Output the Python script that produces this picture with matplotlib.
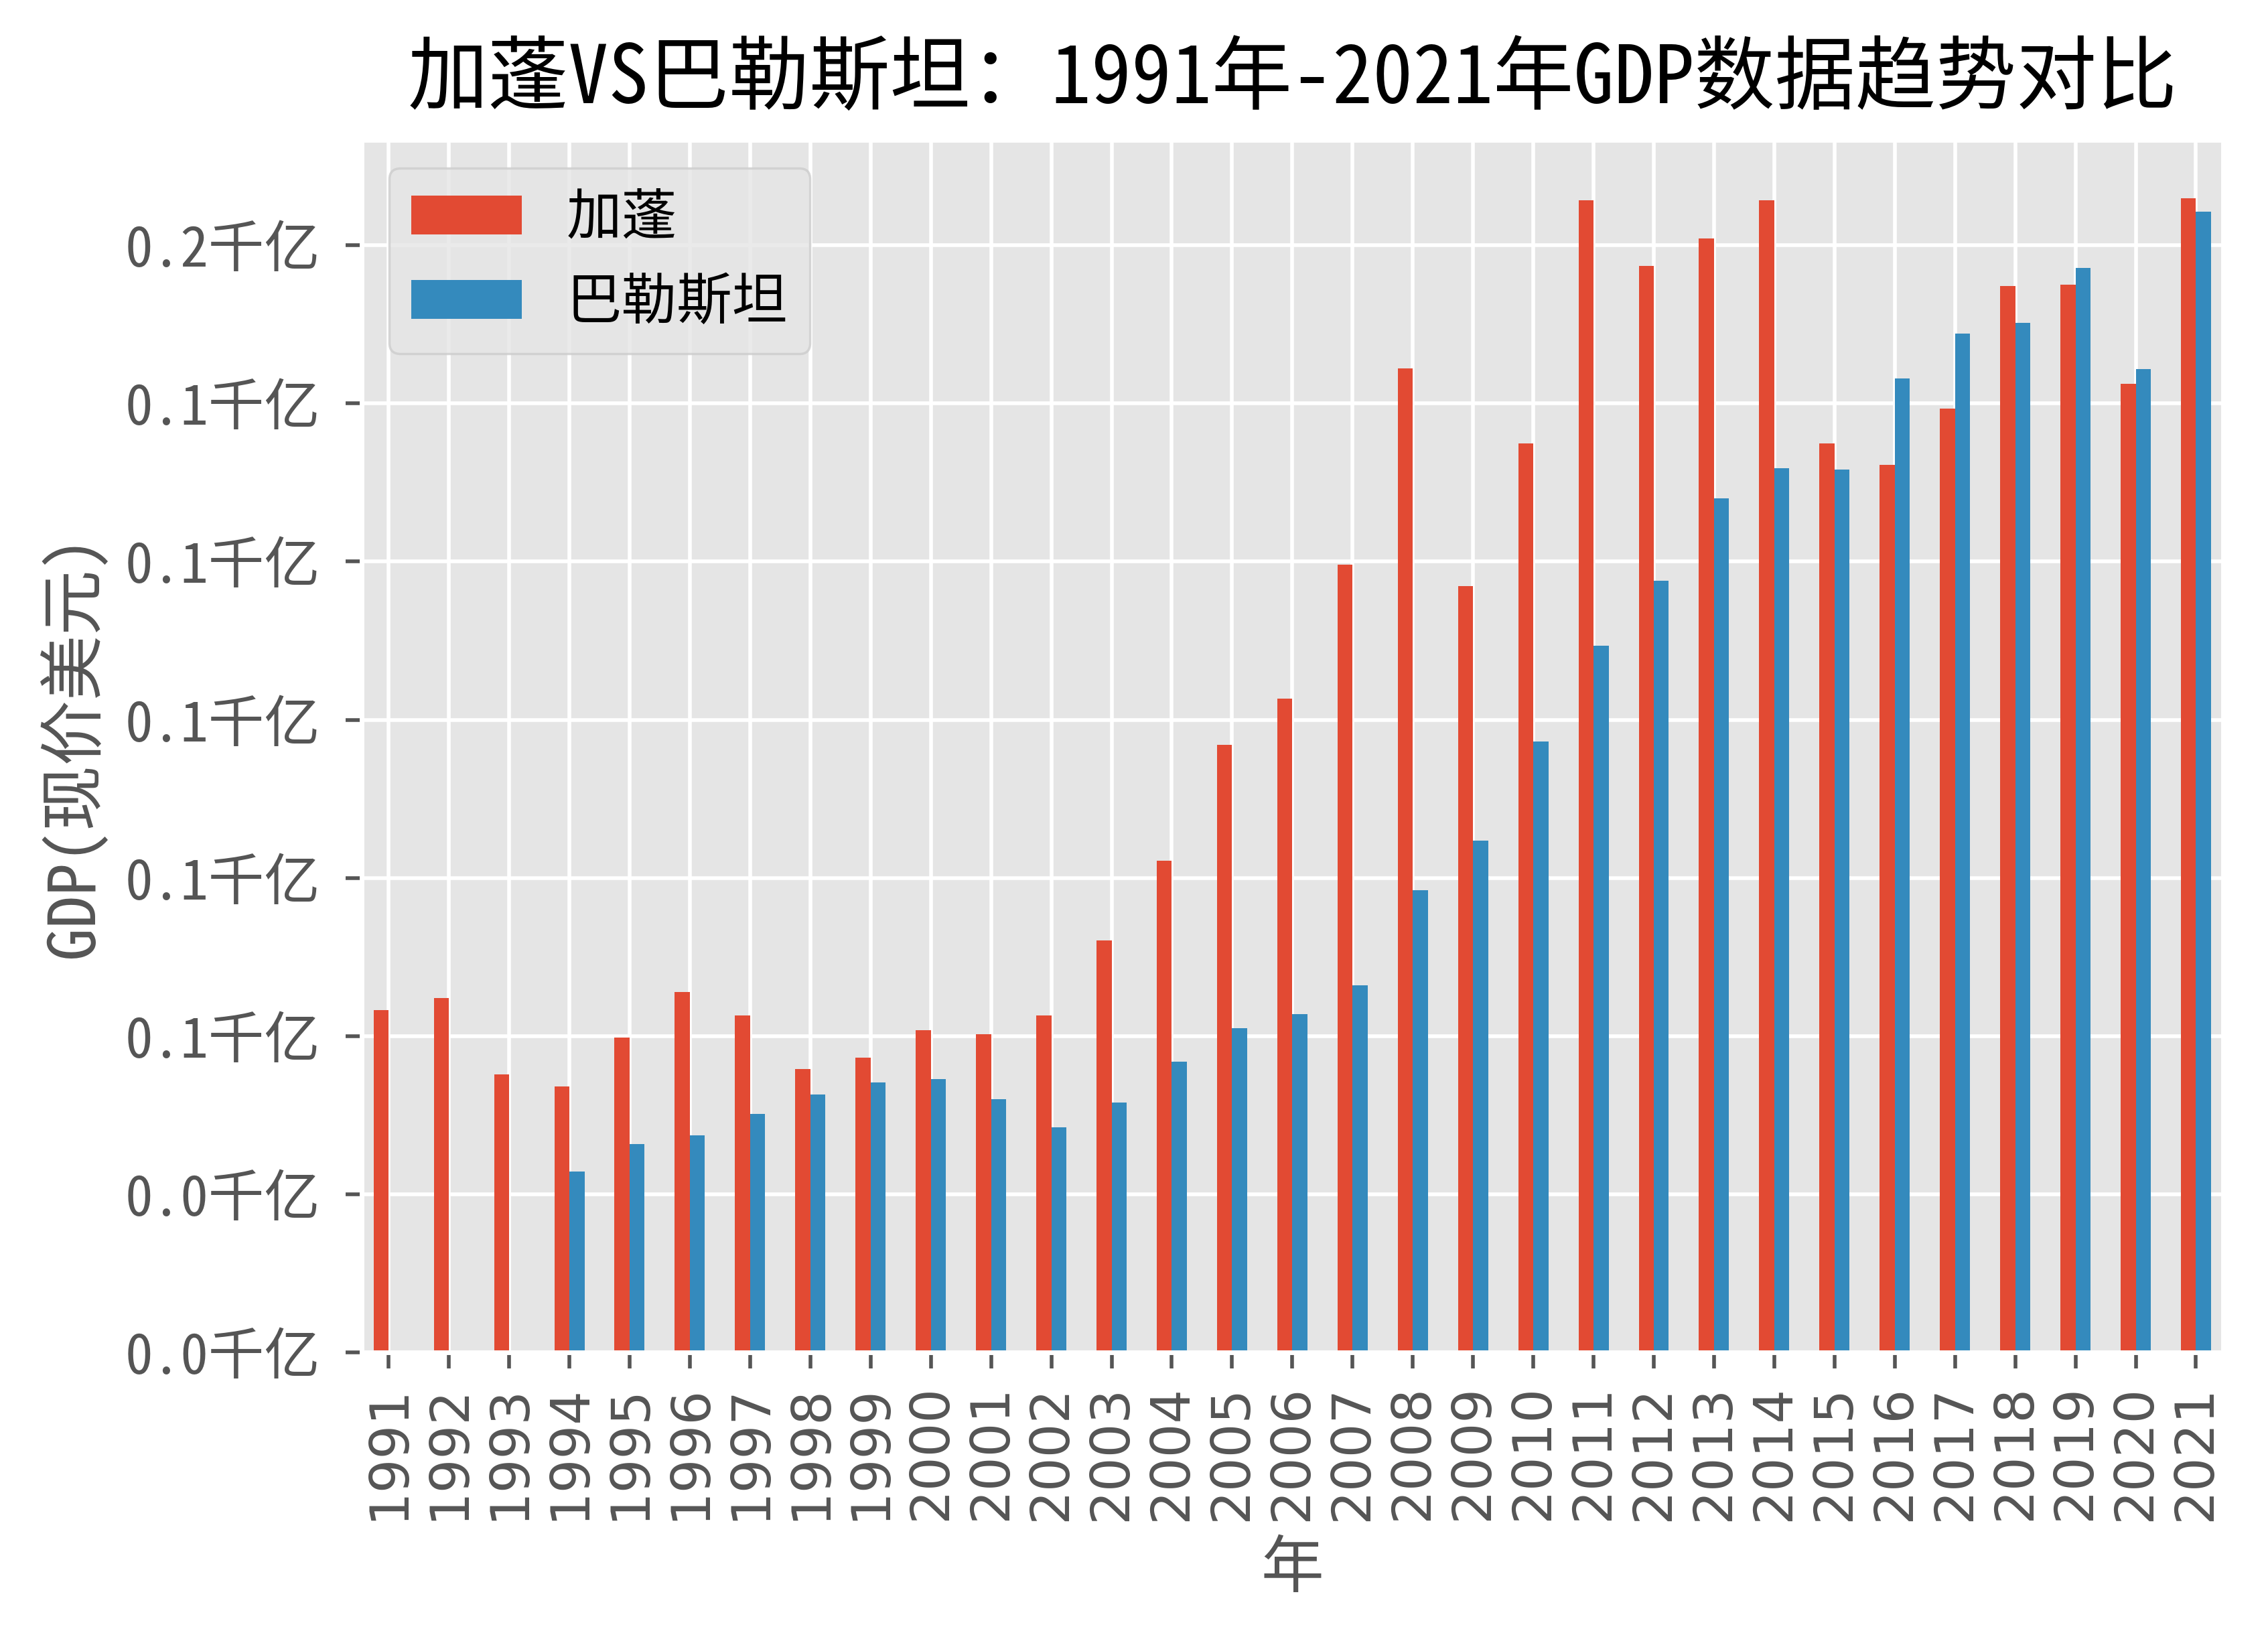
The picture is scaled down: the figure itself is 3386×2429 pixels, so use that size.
import numpy as np
import pandas as pd
import matplotlib
matplotlib.use("Agg")
import matplotlib.pyplot as plt
from matplotlib.ticker import MultipleLocator, FuncFormatter

plt.style.use('ggplot')
cjk = ['Noto Sans Mono CJK SC', 'Noto Sans CJK SC', 'DejaVu Sans']
plt.rcParams['font.family'] = cjk
plt.rcParams['axes.unicode_minus'] = False

years = list(range(1991, 2022))
# GDP, current US$ (billions)
gabon = [5.41, 5.60, 4.39, 4.20, 4.98, 5.69, 5.32, 4.48, 4.66, 5.09,
         5.03, 5.32, 6.51, 7.77, 9.60, 10.33, 12.45, 15.56, 12.11, 14.37,
         18.21, 17.18, 17.61, 18.21, 14.37, 14.03, 14.92, 16.86, 16.88, 15.31,
         18.25]
palestine = [np.nan, np.nan, np.nan, 2.86, 3.29, 3.43, 3.77, 4.07, 4.27, 4.32,
             4.00, 3.56, 3.95, 4.59, 5.12, 5.35, 5.80, 7.31, 8.09, 9.66,
             11.17, 12.20, 13.50, 13.98, 13.96, 15.40, 16.11, 16.27, 17.14, 15.54,
             18.03]

df = pd.DataFrame({'加蓬': np.array(gabon) * 1e9,
                   '巴勒斯坦': np.array(palestine) * 1e9}, index=years)

fig = plt.figure(figsize=(6.772, 4.858), dpi=500)
ax = fig.add_axes([0.1594, 0.1689, 0.8208, 0.7449])
df.plot.bar(ax=ax, width=0.5)

ax.set_xlim(-0.45, 30.45)
ax.yaxis.set_major_locator(MultipleLocator(2.5e9))
ax.yaxis.set_major_formatter(FuncFormatter(lambda v, p: '%.1f千亿' % (v / 1e11)))
ax.tick_params(axis='y', labelsize=12, pad=5.3)
ax.tick_params(axis='x', labelsize=11.5)
for lab in ax.get_xticklabels():
    lab.set_family('DejaVu Sans')
    lab.set_rotation(90)

ax.set_xlabel('年', fontsize=13.5)
ax.set_ylabel('GDP(现价美元)', fontsize=14)
ax.set_title('加蓬VS巴勒斯坦：1991年-2021年GDP数据趋势对比', fontsize=17.3, color='black', pad=8)
ax.legend(loc='upper left', prop={'family': ['Noto Sans CJK SC', 'DejaVu Sans'], 'size': 11.9})

plt.savefig('out.png', dpi=500)
